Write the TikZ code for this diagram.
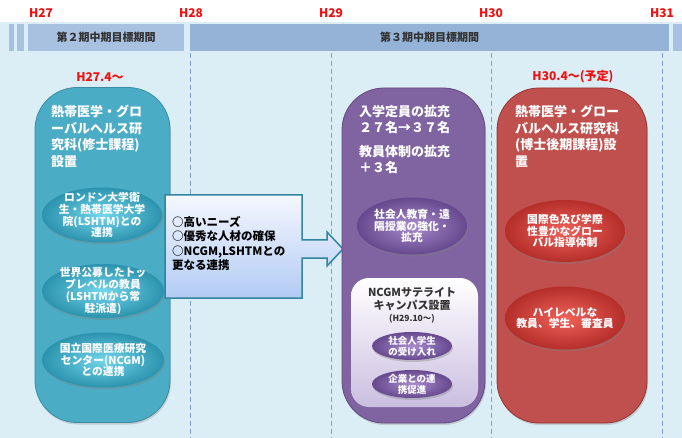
\documentclass[tikz,border=0pt]{standalone}
\usepackage{fontspec}
\setmainfont{Noto Sans CJK JP}
\usetikzlibrary{shapes.geometric,shadows}

\definecolor{bgblue}{HTML}{DCEEF5}
\definecolor{barlight}{HTML}{A9C1E0}
\definecolor{bardark}{HTML}{95B3D7}
\definecolor{dashblue}{HTML}{7F9FD0}
\definecolor{yearred}{HTML}{F01010}
\definecolor{tealpill}{HTML}{4BACC6}
\definecolor{tealedge}{HTML}{3A8CA4}
\definecolor{tealin}{HTML}{72D6EC}
\definecolor{tealout}{HTML}{2C93AE}
\definecolor{purppill}{HTML}{8064A2}
\definecolor{purpedge}{HTML}{62487F}
\definecolor{purpin}{HTML}{A88CCD}
\definecolor{purpout}{HTML}{66488E}
\definecolor{redpill}{HTML}{C0504D}
\definecolor{rededge}{HTML}{963330}
\definecolor{redin}{HTML}{F0625A}
\definecolor{redout}{HTML}{B52E2A}
\definecolor{boxedge}{HTML}{31859C}
\definecolor{boxtop}{HTML}{F4F7FE}
\definecolor{boxbot}{HTML}{B2CBF4}
\definecolor{satbot}{HTML}{CBBEE0}

\tikzset{
	year/.style={text=yearred, inner sep=0pt, font=\bfseries\fontsize{12}{12}\selectfont},
	periodbar/.style={minimum height=27pt, inner sep=0pt, text=black!80, font=\bfseries\fontsize{11}{11}\selectfont},
	dashline/.style={dashblue, line width=1pt, dash pattern=on 5pt off 3pt},
	pill/.style={rounded corners=42pt, line width=0.8pt, minimum height=335pt, drop shadow={shadow xshift=1pt, shadow yshift=-2pt, opacity=0.3}},
	pilltext/.style={text=white, align=left, anchor=north west, inner sep=0pt, font=\bfseries\fontsize{13}{16.5}\selectfont},
	bubble/.style={ellipse, inner sep=0pt, inner color=#1in, outer color=#1out, drop shadow={shadow xshift=1pt, shadow yshift=-2pt, opacity=0.35}},
	bubtext/.style={text=white, align=center, inner sep=0pt, font=\bfseries\fontsize{10.8}{11.8}\selectfont},
	needbox/.style={draw=boxedge, line width=1.5pt, line join=miter, top color=boxtop, bottom color=boxbot},
}

\begin{document}
\begin{tikzpicture}[x=1pt,y=-1pt]
			%%%%% START %%%%%
			\useasboundingbox (0,0) rectangle (682,438);
			\fill[white] (0,0) rectangle (682,438);
			\fill[bgblue] (0,22) rectangle (682,438);
			
			% header
			\fill[barlight] (9,24) rectangle (14,51);
			\fill[barlight] (16.5,24) rectangle (24,51);
			\node[periodbar, fill=barlight, minimum width=156pt] (ki2) at (106,37.5) {第２期中期目標期間};
			\node[periodbar, fill=bardark, minimum width=479pt] (ki3) at (429.5,37.5) {第３期中期目標期間};
			\fill[barlight] (673,24) rectangle (682,51);
			
			\node[year] (h27) at (41,13) {H27};
			\node[year] (h28) at (191,13) {H28};
			\node[year] (h29) at (331,13) {H29};
			\node[year] (h30) at (491,13) {H30};
			\node[year] (h31) at (662,13) {H31};
			
			\draw[dashline] (190,53) -- (190,438);
			\draw[dashline] (331,53) -- (331,438);
			\draw[dashline] (491,53) -- (491,438);
			\draw[dashline] (662,53) -- (662,438);
			
			% master course
			\node[year] (start27) at (100,77) {H27.4～};
			\node[pill, fill=tealpill, draw=tealedge, minimum width=135pt] (shushi) at (102.5,255) {};
			\node[pilltext] (shushi-t) at (51,105) {熱帯医学・グロ\\ーバルヘルス研\\究科(修士課程)\\設置};
			
			\node[bubble=teal, minimum width=120pt, minimum height=55pt] (lshtm) at (102,215) {};
			\node[bubtext] (lshtm-t) at (lshtm) {ロンドン大学衛\\生・熱帯医学大学\\院(LSHTM)との\\連携};
			\node[bubble=teal, minimum width=122pt, minimum height=54pt] (kyoin) at (103,291) {};
			\node[bubtext] (kyoin-t) at (kyoin) {世界公募したトッ\\プレベルの教員\\(LSHTMから常\\駐派遣)};
			\node[bubble=teal, minimum width=122pt, minimum height=55pt] (ncgm) at (103,360) {};
			\node[bubtext] (ncgm-t) at (ncgm) {国立国際医療研究\\センター(NCGM)\\との連携};
			
			% needs
			\draw[needbox] (165,195) -- (302,195) -- (302,240) -- (327,240) -- (327,232) -- (343,249) -- (327,266) -- (327,258) -- (302,258) -- (302,298) -- (165,298) -- cycle;
			\node[anchor=north west, align=left, inner sep=0pt, font=\bfseries\fontsize{11.5}{14.5}\selectfont] (needs) at (172,216) {○高いニーズ\\○優秀な人材の確保\\○NCGM,LSHTMとの\\更なる連携};
			
			% expansion
			\node[pill, fill=purppill, draw=purpedge, minimum width=143pt] (kakuju) at (413.5,255.5) {};
			\node[pilltext] (teiin) at (359,105) {入学定員の拡充\\２７名→３７名};
			\node[pilltext] (taisei) at (359,145) {教員体制の拡充\\＋３名};
			\node[bubble=purp, minimum width=110pt, minimum height=57pt] (enkaku) at (412,226) {};
			\node[bubtext] (enkaku-t) at (enkaku) {社会人教育・遠\\隔授業の強化・\\拡充};
			
			\node[rounded corners=18pt, top color=white, bottom color=satbot, minimum width=127pt, minimum height=129pt] (sat) at (414.5,342.5) {};
			\node[align=center, inner sep=0pt, text=black!80, font=\bfseries\fontsize{11}{12.5}\selectfont] (sat-t) at (412,299) {NCGMサテライト\\キャンパス設置};
			\node[inner sep=0pt, text=black!80, font=\bfseries\fontsize{8.5}{9}\selectfont] (sat-d) at (412,319) {(H29.10～)};
			\node[bubble=purp, minimum width=80pt, minimum height=28pt] (shakai) at (412,346) {};
			\node[bubtext, font=\bfseries\fontsize{9.5}{11}\selectfont] (shakai-t) at (shakai) {社会人学生\\の受け入れ};
			\node[bubble=purp, minimum width=80pt, minimum height=28pt] (kigyo) at (412,384) {};
			\node[bubtext, font=\bfseries\fontsize{9.5}{11}\selectfont] (kigyo-t) at (kigyo) {企業との連\\携促進};
			
			% doctor course
			\node[year] (start30) at (573,77) {H30.4～(予定)};
			\node[pill, fill=redpill, draw=rededge, minimum width=150pt] (hakase) at (572,255.5) {};
			\node[pilltext] (hakase-t) at (515,105) {熱帯医学・グロー\\バルヘルス研究科\\(博士後期課程)設\\置};
			\node[bubble=red, minimum width=120pt, minimum height=62pt] (shido) at (565,231) {};
			\node[bubtext] (shido-t) at (shido) {国際色及び学際\\性豊かなグロー\\バル指導体制};
			\node[bubble=red, minimum width=120pt, minimum height=63pt] (shinsa) at (565,318) {};
			\node[bubtext] (shinsa-t) at (shinsa) {ハイレベルな\\教員、学生、審査員};
			
			%%%%% END %%%%%
\end{tikzpicture}
\end{document}
